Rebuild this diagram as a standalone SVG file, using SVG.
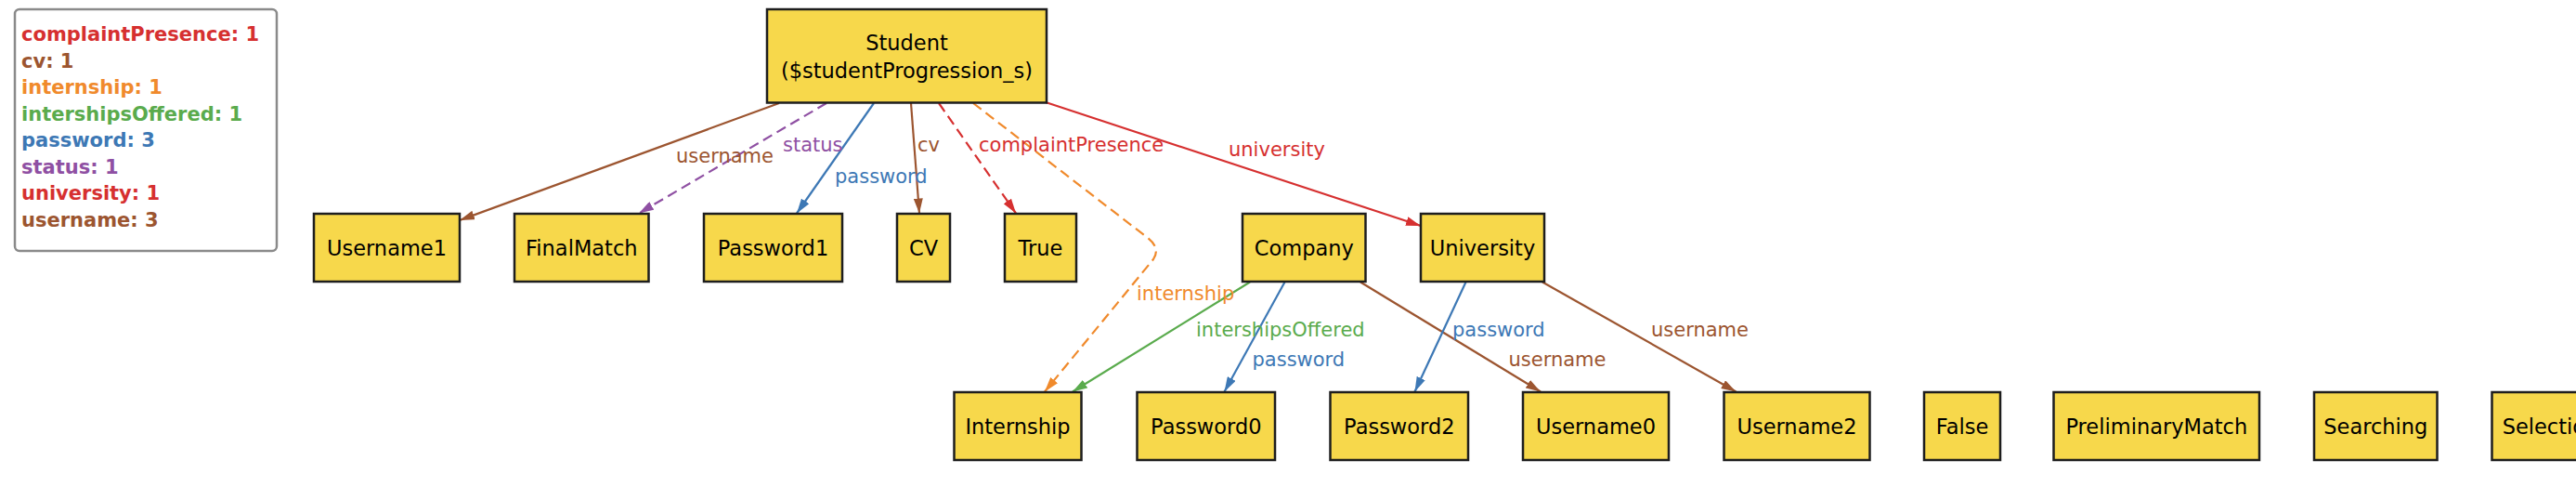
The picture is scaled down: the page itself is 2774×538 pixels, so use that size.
<svg xmlns="http://www.w3.org/2000/svg" width="2774" height="538" viewBox="0 0 2774 538">
<style>
.node rect{fill:#f7d84b;stroke:#1e1e1e;stroke-width:2.5}
.node text{font-family:"DejaVu Sans","Liberation Sans",sans-serif;font-size:22.5px;fill:#000;text-anchor:middle}
.e{fill:none;stroke-width:2.2}
.d{stroke-dasharray:11,6}
.lbl{font-family:"DejaVu Sans","Liberation Sans",sans-serif;font-size:21px}
.leg{font-family:"DejaVu Sans","Liberation Sans",sans-serif;font-size:21px;font-weight:bold}
.brown{stroke:#9c5530}.purple{stroke:#8f50a3}.blue{stroke:#3d78b5}.red{stroke:#d63030}.orange{stroke:#f08a2c}.green{stroke:#5aab4d}
</style>
<defs>
<marker id="m-brown" viewBox="0 0 16 10" refX="16" refY="5" markerWidth="16" markerHeight="10" markerUnits="userSpaceOnUse" orient="auto"><path d="M0,0 L16,5 L0,10 z" fill="#9c5530"/></marker>
<marker id="m-purple" viewBox="0 0 16 10" refX="16" refY="5" markerWidth="16" markerHeight="10" markerUnits="userSpaceOnUse" orient="auto"><path d="M0,0 L16,5 L0,10 z" fill="#8f50a3"/></marker>
<marker id="m-blue" viewBox="0 0 16 10" refX="16" refY="5" markerWidth="16" markerHeight="10" markerUnits="userSpaceOnUse" orient="auto"><path d="M0,0 L16,5 L0,10 z" fill="#3d78b5"/></marker>
<marker id="m-red" viewBox="0 0 16 10" refX="16" refY="5" markerWidth="16" markerHeight="10" markerUnits="userSpaceOnUse" orient="auto"><path d="M0,0 L16,5 L0,10 z" fill="#d63030"/></marker>
<marker id="m-orange" viewBox="0 0 16 10" refX="16" refY="5" markerWidth="16" markerHeight="10" markerUnits="userSpaceOnUse" orient="auto"><path d="M0,0 L16,5 L0,10 z" fill="#f08a2c"/></marker>
<marker id="m-green" viewBox="0 0 16 10" refX="16" refY="5" markerWidth="16" markerHeight="10" markerUnits="userSpaceOnUse" orient="auto"><path d="M0,0 L16,5 L0,10 z" fill="#5aab4d"/></marker>
</defs>
<rect width="2774" height="538" fill="#fff"/>

<g id="legend">
<rect x="16" y="10" width="282" height="260" rx="5" fill="#fff" stroke="#8a8a8a" stroke-width="2.5"/>
<text class="leg" x="23" y="44" fill="#d63030">complaintPresence: 1</text>
<text class="leg" x="23" y="72.5" fill="#9c5530">cv: 1</text>
<text class="leg" x="23" y="101" fill="#f08a2c">internship: 1</text>
<text class="leg" x="23" y="129.5" fill="#5aab4d">intershipsOffered: 1</text>
<text class="leg" x="23" y="158" fill="#3d78b5">password: 3</text>
<text class="leg" x="23" y="186.5" fill="#8f50a3">status: 1</text>
<text class="leg" x="23" y="215" fill="#d63030">university: 1</text>
<text class="leg" x="23" y="243.5" fill="#9c5530">username: 3</text>
</g>

<g id="connectors">
<path class="e brown" d="M839,111 L495,237" marker-end="url(#m-brown)"/>
<path class="e purple d" d="M890,111 L688,229.5" marker-end="url(#m-purple)"/>
<path class="e blue" d="M941,111 L858,229.5" marker-end="url(#m-blue)"/>
<path class="e brown" d="M981,111 L990,229.5" marker-end="url(#m-brown)"/>
<path class="e red d" d="M1011,111 L1094,229.5" marker-end="url(#m-red)"/>
<path class="e orange d" d="M1048,111 L1236,256 Q1250,267 1242,279 L1125,421.5" marker-end="url(#m-orange)"/>
<path class="e red" d="M1126,110 L1530,243" marker-end="url(#m-red)"/>
<path class="e green" d="M1346,303.5 L1155,421.5" marker-end="url(#m-green)"/>
<path class="e blue" d="M1383.5,303.5 L1318.5,421.5" marker-end="url(#m-blue)"/>
<path class="e brown" d="M1465,303.5 L1659,421.5" marker-end="url(#m-brown)"/>
<path class="e blue" d="M1578.5,303.5 L1523.5,421.5" marker-end="url(#m-blue)"/>
<path class="e brown" d="M1661,303.5 L1869.5,421.5" marker-end="url(#m-brown)"/>

<text class="lbl" x="728" y="175" fill="#9c5530">username</text>
<text class="lbl" x="843" y="163" fill="#8f50a3">status</text>
<text class="lbl" x="899" y="197" fill="#3d78b5">password</text>
<text class="lbl" x="988" y="163" fill="#9c5530">cv</text>
<text class="lbl" x="1054" y="163" fill="#d63030">complaintPresence</text>
<text class="lbl" x="1323" y="168" fill="#d63030">university</text>
<text class="lbl" x="1224" y="323" fill="#f08a2c">internship</text>
<text class="lbl" x="1288" y="361.5" fill="#5aab4d">intershipsOffered</text>
<text class="lbl" x="1348.5" y="393.5" fill="#3d78b5">password</text>
<text class="lbl" x="1624.5" y="393.5" fill="#9c5530">username</text>
<text class="lbl" x="1564" y="361.5" fill="#3d78b5">password</text>
<text class="lbl" x="1778" y="361.5" fill="#9c5530">username</text>
</g>

<g id="Student" class="node"><rect x="826" y="10" width="301" height="100.5"/><text x="976.5" y="54">Student</text><text x="976.5" y="83.5">($studentProgression_s)</text></g>

<g id="Username1" class="node"><rect x="338" y="230" width="157" height="73"/><text x="416.5" y="274.5">Username1</text></g>
<g id="FinalMatch" class="node"><rect x="554" y="230" width="144.5" height="73"/><text x="626.3" y="274.5">FinalMatch</text></g>
<g id="Password1" class="node"><rect x="758" y="230" width="149" height="73"/><text x="832.5" y="274.5">Password1</text></g>
<g id="CV" class="node"><rect x="966" y="230" width="57" height="73"/><text x="994.5" y="274.5">CV</text></g>
<g id="True" class="node"><rect x="1082" y="230" width="77" height="73"/><text x="1120.5" y="274.5">True</text></g>
<g id="Company" class="node"><rect x="1338" y="230" width="132.5" height="73"/><text x="1404.3" y="274.5">Company</text></g>
<g id="University" class="node"><rect x="1530" y="230" width="133" height="73"/><text x="1596.5" y="274.5">University</text></g>

<g id="Internship" class="node"><rect x="1027.5" y="422" width="137" height="73"/><text x="1096" y="466.5">Internship</text></g>
<g id="Password0" class="node"><rect x="1224.5" y="422" width="148.5" height="73"/><text x="1298.8" y="466.5">Password0</text></g>
<g id="Password2" class="node"><rect x="1432.5" y="422" width="148.5" height="73"/><text x="1506.8" y="466.5">Password2</text></g>
<g id="Username0" class="node"><rect x="1640" y="422" width="157" height="73"/><text x="1718.5" y="466.5">Username0</text></g>
<g id="Username2" class="node"><rect x="1856.5" y="422" width="157" height="73"/><text x="1935" y="466.5">Username2</text></g>
<g id="False" class="node"><rect x="2072" y="422" width="82" height="73"/><text x="2113" y="466.5">False</text></g>
<g id="PreliminaryMatch" class="node"><rect x="2211.5" y="422" width="221.5" height="73"/><text x="2322.3" y="466.5">PreliminaryMatch</text></g>
<g id="Searching" class="node"><rect x="2492" y="422" width="132.5" height="73"/><text x="2558.3" y="466.5">Searching</text></g>
<g id="Selection" class="node"><rect x="2683.5" y="422" width="126" height="73"/><text x="2746.5" y="466.5">Selection</text></g>
</svg>
